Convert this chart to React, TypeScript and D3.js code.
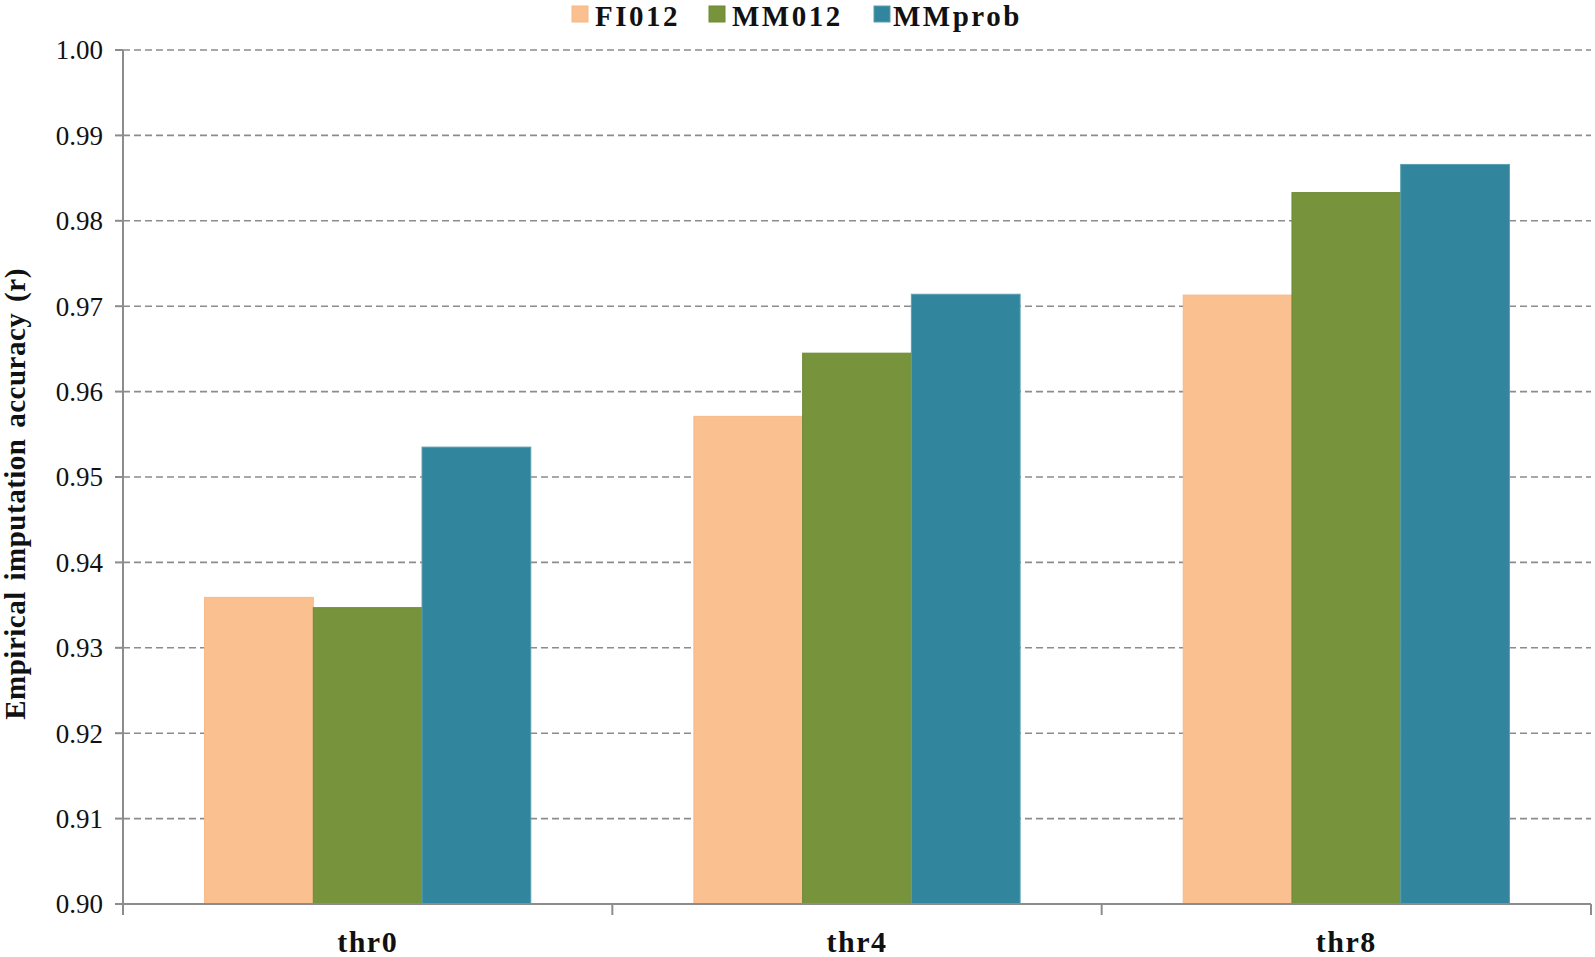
import React from "react";
import * as d3 from "d3";

const categories = ["thr0", "thr4", "thr8"];
const seriesNames = ["FI012", "MM012", "MMprob"];
const fi012 = [0.9359, 0.9571, 0.9713];
const mm012 = [0.9347, 0.9645, 0.9833];
const mmprob = [0.9535, 0.9714, 0.9866];
const yTicks = [0.9, 0.91, 0.92, 0.93, 0.94, 0.95, 0.96, 0.97, 0.98, 0.99, 1.0];
const colors = ["#FAC090", "#77933C", "#31859C"];
const strokes = ["#f7b987", "#6e8a35", "#5a9fb2"];

const W = 1595;
const H = 957;
const left = 123;
const right = 1591;
const top = 50;
const bottom = 904;
const serif = "'Liberation Serif', 'Times New Roman', serif";

export default function App() {
  const values = [fi012, mm012, mmprob];
  const x0 = d3.scaleBand().domain(categories).range([left, right]).paddingInner(0).paddingOuter(0);
  const x1 = d3.scaleBand().domain(seriesNames).range([0, x0.bandwidth()]).paddingInner(0).paddingOuter(0.75);
  const y = d3.scaleLinear().domain([0.9, 1.0]).range([bottom, top]);
  const axisColor = "#8c8c8c";
  const boundaries = [...categories.map((c) => x0(c) as number), right];

  const legendItems = [
    { name: seriesNames[0], sx: 572, tx: 595 },
    { name: seriesNames[1], sx: 709, tx: 732 },
    { name: seriesNames[2], sx: 874, tx: 893 },
  ];

  return (
    <svg width={W} height={H} style={{ position: "absolute", left: 0, top: 0, background: "#fff" }}>
      <rect x={0} y={0} width={W} height={H} fill="#fff" />
      {/* gridlines */}
      {yTicks.map((t) =>
        t > 0.9 ? (
          <line key={"g" + t} x1={left} x2={right} y1={y(t)} y2={y(t)} stroke={axisColor} strokeWidth={1.6} strokeDasharray="7,4" />
        ) : null
      )}
      {/* bars */}
      {categories.map((c, ci) =>
        seriesNames.map((s, si) => {
          const v = values[si][ci];
          const bx = (x0(c) as number) + (x1(s) as number);
          return (
            <rect
              key={c + s}
              x={bx}
              y={y(v)}
              width={x1.bandwidth()}
              height={bottom - y(v)}
              fill={colors[si]}
              stroke={strokes[si]}
              strokeWidth={1}
            />
          );
        })
      )}
      {/* y axis */}
      <line x1={left} x2={left} y1={top} y2={bottom + 10} stroke={axisColor} strokeWidth={2} />
      {yTicks.map((t) => (
        <g key={"t" + t}>
          <line x1={left - 8} x2={left} y1={y(t)} y2={y(t)} stroke={axisColor} strokeWidth={2} />
          <text x={103} y={y(t)} dy="0.35em" textAnchor="end" fontFamily={serif} fontSize={27} fill="#111">
            {t.toFixed(2)}
          </text>
        </g>
      ))}
      {/* x axis */}
      <line x1={left} x2={right} y1={bottom} y2={bottom} stroke={axisColor} strokeWidth={2} />
      {boundaries.map((bx, i) => (
        <line key={"xb" + i} x1={bx} x2={bx} y1={bottom} y2={bottom + 11} stroke={axisColor} strokeWidth={2} />
      ))}
      {categories.map((c) => (
        <text
          key={"c" + c}
          x={(x0(c) as number) + x0.bandwidth() / 2}
          y={952}
          textAnchor="middle"
          fontFamily={serif}
          fontWeight="bold"
          fontSize={30}
          letterSpacing={1.5}
          fill="#111"
        >
          {c}
        </text>
      ))}
      {/* y title */}
      <text
        transform={`translate(25, ${(top + bottom) / 2 + 17}) rotate(-90)`}
        textAnchor="middle"
        fontFamily={serif}
        fontWeight="bold"
        fontSize={29}
        letterSpacing={0.5}
        wordSpacing={3}
        fill="#111"
      >
        Empirical imputation accuracy (r)
      </text>
      {/* legend */}
      {legendItems.map((it, i) => (
        <g key={"l" + it.name}>
          <rect x={it.sx} y={6} width={16} height={16} fill={colors[i]} stroke={strokes[i]} strokeWidth={1} />
          <text x={it.tx} y={26} fontFamily={serif} fontWeight="bold" fontSize={29} letterSpacing={2.5} fill="#111">
            {it.name}
          </text>
        </g>
      ))}
    </svg>
  );
}
